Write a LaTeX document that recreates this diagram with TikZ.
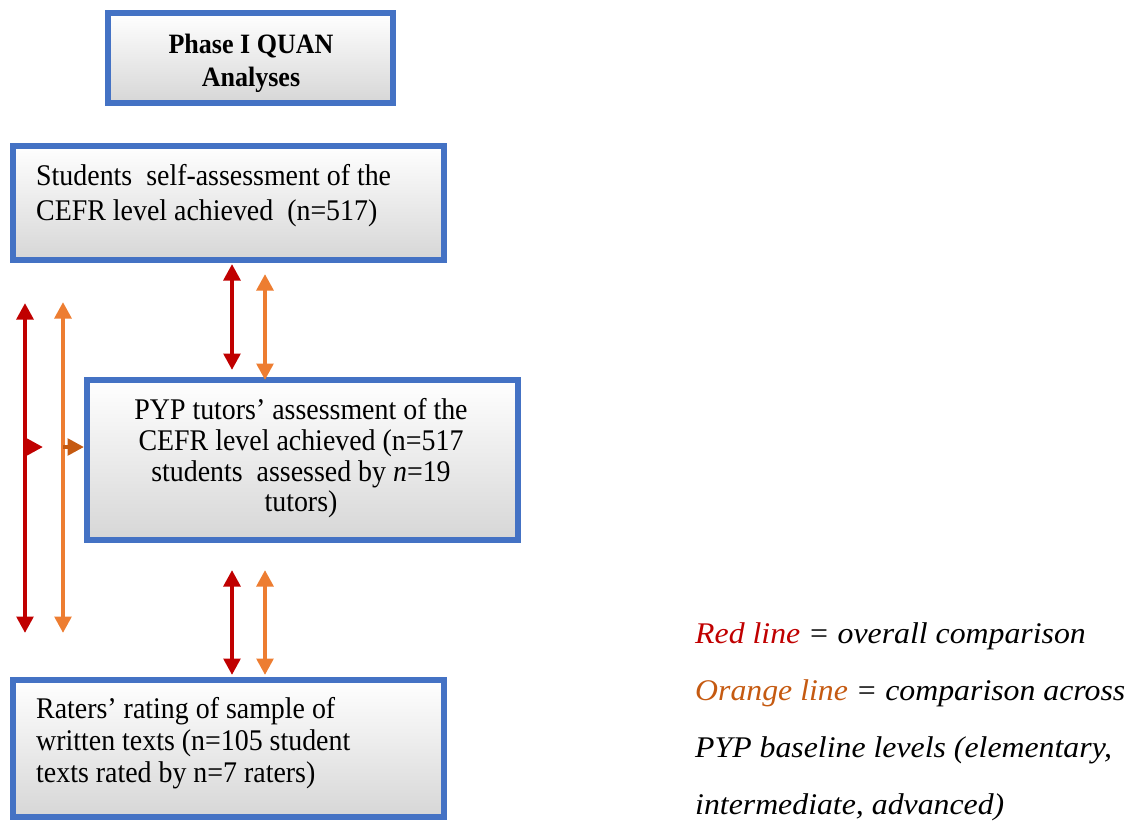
\documentclass[tikz,border=0pt]{standalone}
\usepackage{fontspec}
\setmainfont{Liberation Serif}[FakeStretch=0.93]
\newfontfamily\legendfont{Liberation Serif}[FakeStretch=1.06]
\usetikzlibrary{arrows.meta}
\definecolor{boxblue}{HTML}{4472C4}
\definecolor{cred}{HTML}{C00000}
\definecolor{corange}{HTML}{ED7D31}
\definecolor{cdorange}{HTML}{C55A11}
\begin{document}
\begin{tikzpicture}[x=1pt,y=-1pt,
  box/.style={draw=boxblue, line width=6pt, rectangle, inner sep=0pt,
    top color=white, middle color=white!98!black, bottom color=black!16},
  txt/.style={inner sep=0pt, font=\fontsize{30}{35}\selectfont},
  ttl/.style={inner sep=0pt, font=\bfseries\fontsize{28}{33}\selectfont},
  lgd/.style={inner sep=0pt, font=\legendfont\itshape\fontsize{30}{35}\selectfont},
  head/.style={Triangle[width=16.5pt,length=16.5pt]},
  redarr/.style={draw=cred, line width=4.5pt, {Triangle[width=16.5pt,length=16.5pt]}-{Triangle[width=16.5pt,length=16.5pt]}},
  orarr/.style={draw=corange, line width=4.5pt, {Triangle[width=16.5pt,length=16.5pt]}-{Triangle[width=16.5pt,length=16.5pt]}},
  redtip/.style={draw=cred, line width=4.5pt, -{Triangle[width=16.5pt,length=16.5pt]}},
  ortip/.style={draw=cdorange, line width=4.5pt, -{Triangle[width=16.5pt,length=16.5pt]}}]
\useasboundingbox (0,0) rectangle (1141,820);

% boxes
\node[box, minimum width=285pt, minimum height=90pt]  (b1) at (250.5,58)  {};
\node[box, minimum width=431pt, minimum height=114pt] (b2) at (228.5,203) {};
\node[box, minimum width=431pt, minimum height=160pt] (b3) at (302.5,460) {};
\node[box, minimum width=431pt, minimum height=137pt] (b4) at (228.5,748.5) {};

% box texts
\node[ttl, anchor=base] (t1a) at (251,53) {Phase I QUAN};
\node[ttl, anchor=base] (t1b) at (251,86) {Analyses};

\node[txt, anchor=base west] (t2a) at (36,185) {Students\ \ self-assessment of the};
\node[txt, anchor=base west] (t2b) at (36,220) {CEFR\ level achieved\ \ (n=517)};

\node[txt, anchor=base] (t3a) at (301,419) {PYP tutors’ assessment of the};
\node[txt, anchor=base] (t3b) at (301,450) {CEFR\ level achieved\ (n=517};
\node[txt, anchor=base] (t3c) at (301,481) {students\ \ assessed by \textit{n}=19};
\node[txt, anchor=base] (t3d) at (301,511) {tutors)};

\node[txt, anchor=base west] (t4a) at (36,718) {Raters’ rating of sample of};
\node[txt, anchor=base west] (t4b) at (36,750) {written texts (n=105 student};
\node[txt, anchor=base west] (t4c) at (36,782) {texts rated by n=7 raters)};

% legend
\node[lgd, anchor=base west] (l1) at (695,643) {\textcolor{cred}{Red line} = overall comparison};
\node[lgd, anchor=base west] (l2) at (695,700) {\textcolor{cdorange}{Orange line} = comparison across};
\node[lgd, anchor=base west] (l3) at (695,757) {PYP baseline levels (elementary,};
\node[lgd, anchor=base west] (l4) at (695,814) {intermediate, advanced)};

% column positions of the connectors
\coordinate (rx) at (232,0);
\coordinate (ox) at (265,0);
\coordinate (lrtop) at (25,303);
\coordinate (lrbot) at (25,633);
\coordinate (lotop) at (63,302);
\coordinate (lobot) at (63,633);
\coordinate (lrmid) at (25,447);
\coordinate (lomid) at (63,447);
\coordinate (lrend) at (43,447);

% comparisons between neighbouring boxes
\draw[redarr] ([yshift=-1pt]rx |- b2.south) -- ([yshift=7pt]rx |- b3.north);
\draw[orarr]  ([yshift=-11pt]ox |- b2.south) -- ([yshift=-3pt]ox |- b3.north);
\draw[redarr] ([yshift=-27pt]rx |- b3.south) -- ([yshift=2pt]rx |- b4.north);
\draw[orarr]  ([yshift=-27pt]ox |- b3.south) -- ([yshift=2pt]ox |- b4.north);

% overall comparisons on the left
\draw[redarr] (lrtop) -- (lrbot);
\draw[orarr]  (lotop) -- (lobot);
\draw[redtip] (lrmid) -- (lrend);
\draw[ortip]  (lomid) -- (lomid -| b3.west);
\end{tikzpicture}
\end{document}
